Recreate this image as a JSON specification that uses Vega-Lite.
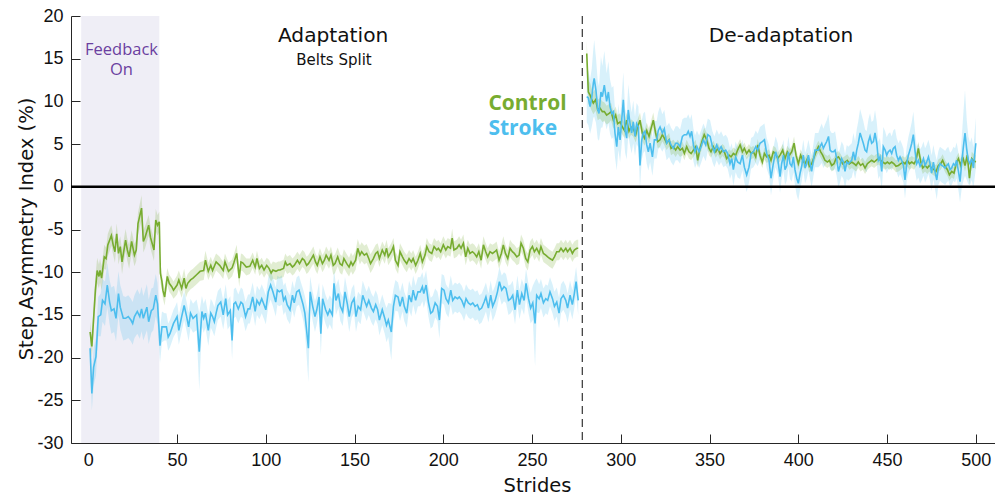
{
"$schema": "https://vega.github.io/schema/vega-lite/v6.json",
"width": 924, "height": 427,
"autosize": {"type": "none"},
"padding": {"left": 71, "top": 16, "right": 0, "bottom": 51},
"background": "white",
"config": {
 "view": {"stroke": null},
 "axis": {"grid": false, "domainColor": "#262626", "domainWidth": 1, "tickColor": "#262626", "tickWidth": 1, "tickSize": -9, "labelFont": "Liberation Sans", "labelFontSize": 18, "labelColor": "#111111", "titleFont": "DejaVu Sans", "titleFontSize": 19.5, "titleFontWeight": "normal", "titleColor": "#111111"}
},
"datasets": {
"cA": [
{"s":1,"m":-17.0,"e":1.2},{"s":2,"m":-18.7,"e":1.3},{"s":4,"m":-12.1,"e":1.6},{"s":5,"m":-9.8,"e":1.5},{"s":6,"m":-10.5,"e":1.4},{"s":6.6,"m":-9.8,"e":1.4},{"s":7.5,"m":-10.7,"e":1.4},{"s":9,"m":-8.2,"e":1.4},{"s":10,"m":-8.4,"e":1.3},{"s":11,"m":-6.8,"e":1.3},{"s":12,"m":-6.25,"e":1.3},{"s":13,"m":-5.7,"e":1.2},{"s":14,"m":-6.8,"e":1.2},{"s":15,"m":-7.6,"e":1.3},{"s":16,"m":-5.5,"e":1.2},{"s":17,"m":-7.8,"e":1.3},{"s":18,"m":-7.0,"e":1.2},{"s":19,"m":-8.8,"e":1.4},{"s":21,"m":-6.25,"e":1.3},{"s":22,"m":-7.4,"e":1.3},{"s":23,"m":-8.2,"e":1.4},{"s":24.4,"m":-6.4,"e":1.3},{"s":26,"m":-8.0,"e":1.3},{"s":27,"m":-7.4,"e":1.3},{"s":28,"m":-4.3,"e":1.3},{"s":30,"m":-2.5,"e":1.5},{"s":31,"m":-6.4,"e":1.3},{"s":32,"m":-5.9,"e":1.3},{"s":34,"m":-4.5,"e":1.2},{"s":35,"m":-5.9,"e":1.3},{"s":37,"m":-7.4,"e":1.3},{"s":38,"m":-3.9,"e":1.3},{"s":39,"m":-4.5,"e":1.2},{"s":40,"m":-4.1,"e":1.2},
{"s":40.6,"m":-10.1,"e":1.1},{"s":41.5,"m":-11.1,"e":1.0},{"s":42,"m":-12.1,"e":1.0},{"s":43,"m":-12.9,"e":1.0},{"s":44.5,"m":-10.5,"e":1.0},{"s":45.6,"m":-11.3,"e":1.0},{"s":47,"m":-11.7,"e":1.0},{"s":48,"m":-12.1,"e":1.0},{"s":50,"m":-11.5,"e":1.1},{"s":51,"m":-10.9,"e":1.1},{"s":52.6,"m":-11.9,"e":1.1},{"s":54,"m":-10.7,"e":1.1},{"s":55,"m":-11.9,"e":1.1},{"s":56,"m":-11.3,"e":1.1},{"s":57.6,"m":-10.9,"e":1.1},{"s":59,"m":-10.7,"e":1.1},{"s":61,"m":-10.3,"e":1.1},{"s":63,"m":-9.9,"e":1.1},{"s":65,"m":-9.8,"e":1.1},{"s":66,"m":-8.6,"e":1.1},{"s":67.6,"m":-9.9,"e":1.0},{"s":69,"m":-9.2,"e":1.0},{"s":70,"m":-9.8,"e":1.0},{"s":72,"m":-8.8,"e":1.0},{"s":74,"m":-9.2,"e":1.0},{"s":76,"m":-9.8,"e":1.0},{"s":77,"m":-8.8,"e":1.0},{"s":79,"m":-9.9,"e":1.0},{"s":81,"m":-9.5,"e":1.0},{"s":82,"m":-8.9,"e":1.0},{"s":83.6,"m":-7.8,"e":1.0},{"s":85,"m":-10.7,"e":1.0},{"s":86,"m":-8.8,"e":1.0},{"s":87,"m":-8.9,"e":1.0},{"s":89,"m":-9.4,"e":1.0},{"s":91,"m":-9.3,"e":0.9},
{"s":92.6,"m":-8.6,"e":0.9},{"s":94,"m":-9.4,"e":0.9},{"s":95,"m":-8.4,"e":0.9},{"s":96.4,"m":-9.55,"e":0.9},{"s":97.7,"m":-9.2,"e":0.9},{"s":99,"m":-9.75,"e":0.9},{"s":100.5,"m":-9.2,"e":0.9},{"s":101.8,"m":-9.55,"e":1.0},{"s":103,"m":-10.1,"e":1.0},{"s":104,"m":-9.75,"e":1.0},{"s":105.7,"m":-9.9,"e":1.0},{"s":107,"m":-9.75,"e":1.0},{"s":108,"m":-9.75,"e":1.0},{"s":110,"m":-9.55,"e":1.0},{"s":111,"m":-8.8,"e":1.0},{"s":112,"m":-9.2,"e":1.0},{"s":113.6,"m":-9.0,"e":1.0},{"s":115,"m":-9.4,"e":1.0},{"s":116,"m":-9.2,"e":1.0},{"s":117.8,"m":-8.6,"e":1.0},{"s":119,"m":-9.0,"e":1.0},{"s":120.6,"m":-8.4,"e":1.0},{"s":121.7,"m":-8.6,"e":1.0},{"s":123,"m":-9.2,"e":1.0},{"s":124,"m":-9.0,"e":1.0},{"s":125.7,"m":-8.4,"e":1.0},{"s":126.8,"m":-8.0,"e":1.0},{"s":128,"m":-8.8,"e":1.0},{"s":129,"m":-9.2,"e":1.0},{"s":130.5,"m":-8.2,"e":1.0},{"s":131.9,"m":-9.0,"e":1.0},{"s":133,"m":-8.6,"e":1.0},{"s":134,"m":-8.0,"e":1.0},{"s":135.6,"m":-8.6,"e":1.0},{"s":136.7,"m":-8.0,"e":1.0},{"s":138,"m":-9.2,"e":1.1},{"s":139,"m":-9.0,"e":1.1},{"s":140.5,"m":-8.2,"e":1.1},{"s":141.8,"m":-9.0,"e":1.1},{"s":143,"m":-9.2,"e":1.1},{"s":144,"m":-8.4,"e":1.1},{"s":145.6,"m":-9.0,"e":1.1},{"s":146.9,"m":-9.4,"e":1.1},{"s":148,"m":-8.8,"e":1.1},{"s":149,"m":-9.2,"e":1.1},{"s":150.6,"m":-8.6,"e":1.1},{"s":151.8,"m":-7.2,"e":1.1},{"s":153,"m":-8.0,"e":1.1},{"s":154,"m":-7.6,"e":1.1},{"s":155.5,"m":-8.0,"e":1.1},{"s":156.8,"m":-7.8,"e":1.1},{"s":158,"m":-8.4,"e":1.1},{"s":159,"m":-9.0,"e":1.1},{"s":160.6,"m":-8.4,"e":1.1},{"s":161.9,"m":-7.8,"e":1.0},{"s":163,"m":-7.6,"e":1.0},{"s":164,"m":-8.4,"e":1.0},{"s":165.6,"m":-7.4,"e":1.0},{"s":167,"m":-8.0,"e":1.0},{"s":168,"m":-7.2,"e":1.0},{"s":169,"m":-8.2,"e":1.0},{"s":170.7,"m":-7.6,"e":1.0},{"s":171.9,"m":-7.0,"e":1.0},{"s":173,"m":-8.6,"e":1.0},{"s":174.5,"m":-9.2,"e":1.0},{"s":175.6,"m":-7.6,"e":1.0},{"s":177,"m":-8.2,"e":1.0},{"s":178,"m":-8.6,"e":1.0},{"s":179.4,"m":-9.0,"e":1.0},{"s":180.7,"m":-8.4,"e":1.0},{"s":182,"m":-8.8,"e":1.0},{"s":183,"m":-8.4,"e":1.0},{"s":184.4,"m":-9.2,"e":1.0},{"s":185.7,"m":-8.6,"e":1.0},
{"s":187,"m":-7.8,"e":1.0},{"s":188.2,"m":-8.8,"e":1.0},{"s":189.7,"m":-8.0,"e":1.0},{"s":190.7,"m":-7.0,"e":1.0},{"s":192,"m":-7.6,"e":1.0},{"s":193.5,"m":-7.8,"e":1.0},{"s":194.8,"m":-7.0,"e":1.0},{"s":196.3,"m":-7.4,"e":1.0},{"s":197.2,"m":-7.2,"e":1.0},{"s":198.5,"m":-7.6,"e":1.0},{"s":200,"m":-6.8,"e":1.0},{"s":201.4,"m":-7.4,"e":1.0},{"s":202.5,"m":-7.0,"e":1.0},{"s":204,"m":-7.2,"e":1.0},{"s":205,"m":-6.0,"e":1.1},{"s":206,"m":-7.4,"e":1.0},{"s":207.6,"m":-7.2,"e":1.0},{"s":208.9,"m":-6.8,"e":1.0},{"s":210,"m":-7.2,"e":1.0},{"s":211.3,"m":-6.6,"e":1.0},{"s":212.6,"m":-8.2,"e":1.0},{"s":213.8,"m":-7.2,"e":1.0},{"s":215,"m":-7.8,"e":1.0},{"s":216.4,"m":-7.6,"e":1.0},{"s":217.5,"m":-7.8,"e":1.0},{"s":218.8,"m":-8.2,"e":1.0},{"s":220,"m":-7.6,"e":1.0},{"s":221.3,"m":-8.6,"e":1.0},{"s":222.6,"m":-6.8,"e":1.0},{"s":223.9,"m":-7.6,"e":1.0},{"s":225,"m":-8.2,"e":1.0},{"s":226.3,"m":-7.6,"e":1.0},{"s":227.7,"m":-7.8,"e":1.0},{"s":229,"m":-7.6,"e":1.0},{"s":230,"m":-7.4,"e":1.0},{"s":231.4,"m":-8.6,"e":1.0},{"s":232.7,"m":-7.8,"e":1.0},{"s":233.8,"m":-6.8,"e":1.0},{"s":235,"m":-7.8,"e":1.0},{"s":236.3,"m":-8.4,"e":1.0},{"s":237.6,"m":-7.2,"e":1.0},{"s":238.9,"m":-7.6,"e":1.0},{"s":240,"m":-7.8,"e":1.0},{"s":241.4,"m":-8.2,"e":1.0},{"s":242.7,"m":-8.0,"e":1.0},{"s":243.8,"m":-6.6,"e":1.0},{"s":245.1,"m":-7.2,"e":1.0},{"s":246.4,"m":-8.4,"e":1.0},{"s":247.6,"m":-8.8,"e":1.0},{"s":248.9,"m":-7.4,"e":1.0},{"s":250.2,"m":-7.0,"e":1.0},{"s":251.3,"m":-7.6,"e":1.0},{"s":252.6,"m":-7.2,"e":1.0},{"s":254,"m":-7.8,"e":1.0},{"s":255,"m":-7.0,"e":1.0},{"s":256.4,"m":-7.8,"e":1.0},{"s":257.7,"m":-8.0,"e":1.0},{"s":258.8,"m":-8.2,"e":1.0},{"s":260,"m":-8.4,"e":1.0},{"s":261.5,"m":-8.6,"e":1.0},{"s":262.6,"m":-8.2,"e":1.0},{"s":263.9,"m":-7.6,"e":1.0},{"s":265.2,"m":-7.6,"e":1.0},{"s":266.3,"m":-7.2,"e":1.0},{"s":267.6,"m":-7.6,"e":1.0},{"s":269,"m":-7.2,"e":1.0},{"s":270,"m":-7.6,"e":1.0},{"s":271.4,"m":-7.2,"e":1.0},{"s":272.7,"m":-7.8,"e":1.0},{"s":273.8,"m":-7.4,"e":1.0},{"s":275.2,"m":-7.2,"e":1.0},{"s":276,"m":-7.2,"e":1.0}
],
"sA": [
{"s":1,"m":-18.9,"e":2.0},{"s":2,"m":-24.2,"e":2.0},{"s":3,"m":-21.1,"e":2.2},{"s":4.3,"m":-19.9,"e":2.2},{"s":5.6,"m":-15.2,"e":2.3},{"s":7,"m":-15.0,"e":2.5},{"s":8,"m":-13.3,"e":2.5},{"s":9.4,"m":-13.7,"e":2.6},{"s":10.7,"m":-11.5,"e":2.6},{"s":12,"m":-13.5,"e":2.6},{"s":13,"m":-14.5,"e":2.7},{"s":14.5,"m":-14.3,"e":2.7},{"s":15.6,"m":-15.4,"e":2.7},{"s":17,"m":-12.5,"e":2.6},{"s":18,"m":-14.1,"e":2.6},{"s":19.7,"m":-15.4,"e":2.6},{"s":21,"m":-15.4,"e":2.5},{"s":22.5,"m":-15.2,"e":2.5},{"s":24,"m":-15.6,"e":2.5},{"s":25,"m":-16.0,"e":2.5},{"s":26,"m":-15.2,"e":2.5},{"s":27.6,"m":-14.6,"e":2.6},{"s":29,"m":-15.2,"e":2.6},{"s":30,"m":-14.3,"e":2.6},{"s":31,"m":-15.4,"e":2.6},{"s":33,"m":-14.1,"e":2.7},{"s":34,"m":-15.8,"e":2.6},{"s":35.5,"m":-14.5,"e":2.6},{"s":36.6,"m":-14.3,"e":2.5},{"s":38,"m":-12.7,"e":2.5},{"s":39,"m":-13.7,"e":2.4},{"s":40.4,"m":-18.6,"e":2.0},{"s":41.5,"m":-16.4,"e":1.8},{"s":43,"m":-16.4,"e":1.6},{"s":44,"m":-16.4,"e":1.6},{"s":45,"m":-17.6,"e":1.6},{"s":46,"m":-17.2,"e":1.6},{"s":48,"m":-16.0,"e":1.6},{"s":49,"m":-15.6,"e":1.6},{"s":50,"m":-15.2,"e":1.7},{"s":51,"m":-16.8,"e":1.7},{"s":52.6,"m":-15.2,"e":1.7},{"s":54,"m":-13.9,"e":1.7},{"s":55.4,"m":-15.2,"e":1.7},{"s":56.5,"m":-16.4,"e":1.7},{"s":57.6,"m":-14.8,"e":1.7},{"s":59,"m":-15.4,"e":1.7},{"s":61,"m":-15.0,"e":1.8},{"s":62.5,"m":-19.3,"e":4.5},{"s":64,"m":-14.6,"e":1.8},{"s":65,"m":-15.4,"e":1.7},{"s":66,"m":-14.8,"e":1.7},{"s":67.6,"m":-16.8,"e":1.8},{"s":69,"m":-14.8,"e":1.7},{"s":70,"m":-15.2,"e":1.7},{"s":71,"m":-15.8,"e":1.7},{"s":72,"m":-14.8,"e":1.7},{"s":73,"m":-13.9,"e":1.7},{"s":74.6,"m":-13.5,"e":1.7},{"s":76,"m":-15.0,"e":1.7},{"s":77.4,"m":-13.1,"e":1.7},{"s":78.5,"m":-15.0,"e":1.7},{"s":80,"m":-14.5,"e":1.7},{"s":81,"m":-18.0,"e":2.2},{"s":82,"m":-13.7,"e":1.7},{"s":83,"m":-13.5,"e":1.7},{"s":84.5,"m":-14.3,"e":1.7},{"s":86,"m":-13.5,"e":1.7},{"s":87,"m":-13.7,"e":1.7},{"s":88.6,"m":-15.2,"e":1.7},{"s":90,"m":-14.3,"e":1.7},{"s":91,"m":-14.3,"e":1.7},
{"s":92.6,"m":-12.9,"e":1.7},{"s":94,"m":-14.6,"e":1.7},{"s":95,"m":-13.3,"e":1.7},{"s":96.4,"m":-13.8,"e":1.7},{"s":97.7,"m":-13.1,"e":1.7},{"s":99,"m":-13.8,"e":1.7},{"s":100,"m":-14.4,"e":1.7},{"s":101.4,"m":-12.3,"e":1.7},{"s":102.7,"m":-11.5,"e":1.7},{"s":104,"m":-12.3,"e":1.7},{"s":105.6,"m":-13.5,"e":1.7},{"s":106.5,"m":-12.1,"e":1.7},{"s":107.6,"m":-12.3,"e":1.7},{"s":109,"m":-12.1,"e":1.7},{"s":110,"m":-13.3,"e":1.7},{"s":111,"m":-12.9,"e":1.7},{"s":112,"m":-13.8,"e":1.7},{"s":113.6,"m":-14.4,"e":1.7},{"s":115,"m":-12.7,"e":1.7},{"s":116,"m":-13.6,"e":1.7},{"s":117.4,"m":-12.3,"e":1.7},{"s":118.7,"m":-12.1,"e":1.7},{"s":119.8,"m":-12.9,"e":1.7},{"s":121,"m":-13.8,"e":1.8},{"s":122,"m":-14.8,"e":2.0},{"s":124,"m":-18.9,"e":4.0},{"s":125,"m":-12.3,"e":1.8},{"s":126.4,"m":-14.0,"e":1.7},{"s":127.7,"m":-15.2,"e":1.8},{"s":128.7,"m":-14.4,"e":1.7},{"s":130,"m":-12.9,"e":1.7},{"s":131,"m":-17.2,"e":2.5},{"s":132,"m":-13.1,"e":1.7},{"s":133.7,"m":-14.4,"e":1.7},{"s":134.9,"m":-15.0,"e":1.7},{"s":136,"m":-14.4,"e":1.7},{"s":137.5,"m":-15.0,"e":1.8},{"s":138.4,"m":-11.3,"e":1.7},{"s":139.5,"m":-13.3,"e":1.7},{"s":140.9,"m":-12.5,"e":1.7},{"s":142,"m":-14.0,"e":1.7},{"s":143.3,"m":-14.6,"e":1.7},{"s":144.6,"m":-12.3,"e":1.7},{"s":146,"m":-13.8,"e":1.7},{"s":147,"m":-15.2,"e":1.8},{"s":148.4,"m":-13.6,"e":1.7},{"s":149.7,"m":-13.1,"e":1.7},{"s":150.8,"m":-15.2,"e":1.8},{"s":152,"m":-14.0,"e":1.7},{"s":153.4,"m":-14.4,"e":1.7},{"s":154.6,"m":-12.7,"e":1.7},{"s":155.9,"m":-13.5,"e":1.7},{"s":156.8,"m":-14.0,"e":1.7},{"s":158,"m":-13.3,"e":1.7},{"s":159.5,"m":-14.2,"e":1.7},{"s":160.6,"m":-14.6,"e":1.7},{"s":161.9,"m":-13.8,"e":1.7},{"s":163,"m":-14.4,"e":1.7},{"s":164,"m":-15.6,"e":1.8},{"s":165.6,"m":-14.4,"e":1.8},{"s":167,"m":-15.4,"e":1.8},{"s":168,"m":-16.2,"e":2.0},{"s":169,"m":-15.6,"e":2.0},{"s":170.7,"m":-17.0,"e":3.3},{"s":171.9,"m":-14.0,"e":2.0},{"s":173,"m":-12.7,"e":1.8},{"s":174.5,"m":-12.9,"e":1.7},{"s":175.6,"m":-14.0,"e":1.7},{"s":177,"m":-12.9,"e":1.7},{"s":178,"m":-14.0,"e":1.7},{"s":179.4,"m":-14.8,"e":1.7},{"s":180.7,"m":-12.7,"e":1.7},{"s":182,"m":-13.5,"e":1.7},{"s":183,"m":-12.1,"e":1.7},{"s":184.4,"m":-13.3,"e":1.7},{"s":185.7,"m":-12.3,"e":1.7},
{"s":187,"m":-12.3,"e":1.7},{"s":188.2,"m":-11.7,"e":1.7},{"s":189,"m":-12.5,"e":1.7},{"s":190.3,"m":-11.5,"e":1.7},{"s":191.6,"m":-13.5,"e":1.7},{"s":192.9,"m":-14.8,"e":1.8},{"s":194,"m":-14.6,"e":1.8},{"s":195.4,"m":-13.6,"e":1.7},{"s":196.7,"m":-14.0,"e":1.7},{"s":197.8,"m":-15.6,"e":2.2},{"s":199.1,"m":-11.9,"e":1.7},{"s":200.4,"m":-12.1,"e":1.7},{"s":201.5,"m":-13.1,"e":1.7},{"s":202.9,"m":-13.6,"e":1.7},{"s":204.2,"m":-12.1,"e":1.7},{"s":205.3,"m":-13.3,"e":1.7},{"s":206.6,"m":-12.9,"e":1.7},{"s":208,"m":-13.1,"e":1.7},{"s":209,"m":-12.9,"e":1.7},{"s":210.4,"m":-13.3,"e":1.7},{"s":211.7,"m":-14.0,"e":1.7},{"s":212.8,"m":-13.1,"e":1.7},{"s":214.1,"m":-13.6,"e":1.7},{"s":215.4,"m":-13.8,"e":1.7},{"s":216.6,"m":-13.6,"e":1.7},{"s":217.9,"m":-14.0,"e":1.7},{"s":219.2,"m":-13.8,"e":1.7},{"s":220.3,"m":-14.4,"e":1.7},{"s":221.6,"m":-14.2,"e":1.7},{"s":223,"m":-13.5,"e":1.7},{"s":224,"m":-12.9,"e":1.7},{"s":225.4,"m":-14.2,"e":1.7},{"s":226.7,"m":-12.7,"e":1.7},{"s":227.8,"m":-14.0,"e":1.7},{"s":229.2,"m":-13.3,"e":1.7},{"s":230.5,"m":-12.3,"e":1.7},{"s":231.6,"m":-11.1,"e":1.7},{"s":232.9,"m":-12.1,"e":1.7},{"s":234.2,"m":-11.7,"e":1.7},{"s":235.3,"m":-11.9,"e":1.7},{"s":236.7,"m":-13.3,"e":1.7},{"s":238,"m":-13.1,"e":1.7},{"s":239.1,"m":-12.7,"e":1.7},{"s":240.4,"m":-14.4,"e":1.7},{"s":241.7,"m":-12.1,"e":1.7},{"s":242.9,"m":-13.8,"e":1.7},{"s":244.2,"m":-12.5,"e":1.7},{"s":245.5,"m":-13.3,"e":1.7},{"s":246.6,"m":-11.3,"e":1.7},{"s":248,"m":-13.1,"e":1.7},{"s":249.2,"m":-14.2,"e":1.8},{"s":250.4,"m":-13.6,"e":2.0},{"s":251.7,"m":-16.0,"e":5.0},{"s":252.6,"m":-12.7,"e":2.0},{"s":254,"m":-13.1,"e":1.7},{"s":255,"m":-12.5,"e":1.7},{"s":256.4,"m":-13.6,"e":1.7},{"s":257.7,"m":-13.1,"e":1.7},{"s":258.8,"m":-13.3,"e":1.7},{"s":260.1,"m":-12.3,"e":1.7},{"s":261.5,"m":-13.1,"e":1.7},{"s":262.6,"m":-14.0,"e":1.7},{"s":263.9,"m":-13.5,"e":1.7},{"s":265.2,"m":-14.8,"e":1.8},{"s":266.3,"m":-13.1,"e":1.7},{"s":267.6,"m":-12.7,"e":1.7},{"s":269,"m":-13.3,"e":1.7},{"s":270,"m":-14.2,"e":1.7},{"s":271.4,"m":-12.7,"e":1.7},{"s":272.7,"m":-13.8,"e":1.7},{"s":273.8,"m":-12.5,"e":1.7},{"s":274.8,"m":-11.1,"e":1.7},{"s":276,"m":-13.3,"e":1.7}
],
"cD": [
{"s":280.8,"m":15.6,"e":1.5},{"s":281.7,"m":11.1,"e":1.4},{"s":282.7,"m":10.75,"e":1.4},{"s":283.6,"m":10.2,"e":1.3},{"s":284.5,"m":9.8,"e":1.3},{"s":285.8,"m":10.2,"e":1.3},{"s":287,"m":9.0,"e":1.2},{"s":288.3,"m":9.2,"e":1.2},{"s":289.6,"m":8.8,"e":1.2},{"s":290.7,"m":8.8,"e":1.1},{"s":292,"m":8.4,"e":1.1},{"s":293.4,"m":8.6,"e":1.1},{"s":294.5,"m":8.8,"e":1.0},{"s":295.8,"m":7.8,"e":1.0},{"s":297.1,"m":8.4,"e":1.0},{"s":298.2,"m":7.4,"e":1.0},{"s":299.6,"m":7.6,"e":1.0},{"s":300.9,"m":7.0,"e":0.9},{"s":302,"m":6.6,"e":0.9},{"s":303.3,"m":7.8,"e":0.9},{"s":304.6,"m":6.5,"e":0.9},{"s":305.7,"m":7.0,"e":0.9},{"s":307,"m":6.8,"e":0.9},{"s":308.4,"m":6.1,"e":0.9},{"s":309.5,"m":7.0,"e":0.9},{"s":310.8,"m":7.8,"e":0.9},{"s":312.1,"m":6.3,"e":0.9},{"s":313.3,"m":5.7,"e":0.9},{"s":314.6,"m":6.6,"e":0.9},{"s":315.9,"m":5.9,"e":0.9},{"s":317,"m":6.8,"e":0.9},{"s":318.3,"m":7.8,"e":0.9},{"s":319.6,"m":6.3,"e":0.8},{"s":320.8,"m":5.3,"e":0.8},{"s":322.1,"m":5.5,"e":0.8},{"s":323.4,"m":6.1,"e":0.8},{"s":324.5,"m":5.7,"e":0.8},{"s":325.8,"m":5.1,"e":0.8},{"s":327.2,"m":5.5,"e":0.8},{"s":328.3,"m":4.5,"e":0.8},{"s":329.6,"m":4.7,"e":0.8},{"s":330.9,"m":4.3,"e":0.8},{"s":332,"m":4.7,"e":0.8},{"s":333.4,"m":4.3,"e":0.8},{"s":334.7,"m":4.5,"e":0.8},{"s":335.8,"m":3.9,"e":0.8},{"s":337.1,"m":4.7,"e":0.8},{"s":338.4,"m":4.1,"e":0.8},{"s":339.6,"m":3.9,"e":0.8},{"s":340.9,"m":4.3,"e":0.8},{"s":342.2,"m":4.7,"e":0.8},{"s":343.3,"m":3.1,"e":0.8},{"s":344.6,"m":4.5,"e":0.8},{"s":346,"m":5.5,"e":0.8},{"s":347,"m":6.1,"e":0.8},{"s":348.4,"m":5.5,"e":0.8},{"s":349.7,"m":4.5,"e":0.8},{"s":350.8,"m":4.1,"e":0.7},{"s":352.1,"m":4.7,"e":0.7},{"s":353.5,"m":4.1,"e":0.7},{"s":354.6,"m":4.5,"e":0.7},{"s":355.9,"m":3.9,"e":0.7},{"s":357.2,"m":4.3,"e":0.7},{"s":358.3,"m":4.1,"e":0.7},{"s":359.6,"m":3.3,"e":0.7},{"s":361,"m":3.7,"e":0.7},{"s":362.1,"m":3.5,"e":0.7},{"s":363.4,"m":3.9,"e":0.7},{"s":364.7,"m":3.7,"e":0.7},{"s":365.8,"m":4.3,"e":0.7},{"s":367.2,"m":4.9,"e":0.7},{"s":368.5,"m":4.1,"e":0.7},{"s":369.6,"m":4.5,"e":0.7},{"s":370.9,"m":3.9,"e":0.7},{"s":372.2,"m":4.3,"e":0.7},{"s":373.4,"m":3.9,"e":0.7},{"s":374.7,"m":4.1,"e":0.7},{"s":376,"m":3.5,"e":0.7},{"s":377.1,"m":4.9,"e":0.7},{"s":378.4,"m":3.7,"e":0.7},{"s":379.7,"m":2.9,"e":0.7},{"s":380.9,"m":3.9,"e":0.7},{"s":382.2,"m":3.5,"e":0.7},{"s":383.5,"m":3.7,"e":0.7},{"s":384.6,"m":3.1,"e":0.7},{"s":385.9,"m":4.1,"e":0.7},{"s":387.2,"m":3.9,"e":0.7},{"s":388.4,"m":3.3,"e":0.7},
{"s":389.7,"m":3.7,"e":0.7},{"s":391.2,"m":4.3,"e":0.7},{"s":392.5,"m":3.3,"e":0.7},{"s":393.8,"m":4.1,"e":0.7},{"s":395,"m":3.7,"e":0.7},{"s":396.3,"m":4.1,"e":0.7},{"s":397.6,"m":5.1,"e":0.8},{"s":398.7,"m":3.7,"e":0.7},{"s":400,"m":2.7,"e":0.7},{"s":401.3,"m":3.7,"e":0.7},{"s":402.5,"m":3.1,"e":0.7},{"s":403.8,"m":2.7,"e":0.7},{"s":405.1,"m":3.3,"e":0.7},{"s":406.2,"m":2.4,"e":0.7},{"s":407.5,"m":2.7,"e":0.7},{"s":408.9,"m":3.5,"e":0.7},{"s":410,"m":4.1,"e":0.7},{"s":411.3,"m":4.7,"e":0.7},{"s":412.6,"m":4.1,"e":0.7},{"s":413.7,"m":3.7,"e":0.7},{"s":415,"m":3.1,"e":0.7},{"s":416.4,"m":2.9,"e":0.7},{"s":417.5,"m":3.1,"e":0.7},{"s":418.8,"m":2.5,"e":0.7},{"s":420.1,"m":2.7,"e":0.7},{"s":421.2,"m":3.3,"e":0.7},{"s":422.6,"m":3.5,"e":0.7},{"s":423.9,"m":3.1,"e":0.7},{"s":425,"m":2.7,"e":0.7},{"s":426.3,"m":2.9,"e":0.7},{"s":427.6,"m":3.1,"e":0.7},{"s":428.8,"m":2.7,"e":0.7},{"s":430.1,"m":2.9,"e":0.7},{"s":431.4,"m":2.7,"e":0.7},{"s":432.5,"m":2.5,"e":0.7},{"s":433.8,"m":2.9,"e":0.7},{"s":435.1,"m":2.5,"e":0.7},{"s":436.3,"m":2.7,"e":0.7},{"s":437.6,"m":2.2,"e":0.7},{"s":438.9,"m":2.7,"e":0.7},{"s":440,"m":2.9,"e":0.7},{"s":441.3,"m":3.1,"e":0.7},{"s":442.7,"m":2.9,"e":0.7},{"s":443.8,"m":3.1,"e":0.7},{"s":445.1,"m":3.3,"e":0.7},{"s":446.4,"m":3.1,"e":0.7},{"s":447.5,"m":2.9,"e":0.7},{"s":448.9,"m":2.7,"e":0.7},{"s":450.2,"m":2.9,"e":0.7},{"s":451.3,"m":2.7,"e":0.7},{"s":452.6,"m":2.9,"e":0.7},{"s":453.9,"m":2.7,"e":0.7},{"s":455,"m":2.4,"e":0.7},{"s":456.4,"m":2.5,"e":0.7},{"s":457.7,"m":2.7,"e":0.7},{"s":458.8,"m":2.9,"e":0.7},{"s":460.1,"m":2.7,"e":0.7},{"s":461.4,"m":3.1,"e":0.7},{"s":462.6,"m":2.7,"e":0.7},{"s":463.9,"m":2.9,"e":0.7},{"s":465.2,"m":2.7,"e":0.7},{"s":466.3,"m":3.1,"e":0.7},{"s":467.6,"m":4.5,"e":0.8},{"s":469,"m":2.9,"e":0.7},{"s":470.1,"m":2.2,"e":0.7},{"s":471.4,"m":2.5,"e":0.7},{"s":472.7,"m":2.2,"e":0.7},{"s":473.8,"m":2.5,"e":0.7},{"s":475.1,"m":2.2,"e":0.7},{"s":476.5,"m":2.0,"e":0.7},{"s":477.6,"m":1.8,"e":0.7},{"s":478.9,"m":2.5,"e":0.7},{"s":480.2,"m":2.7,"e":0.7},{"s":481.3,"m":3.1,"e":0.7},{"s":482.7,"m":2.4,"e":0.7},{"s":484,"m":2.0,"e":0.7},{"s":485.1,"m":1.4,"e":0.7},{"s":486.4,"m":1.8,"e":0.7},{"s":487.7,"m":1.6,"e":0.7},{"s":488.9,"m":2.7,"e":0.7},{"s":490.2,"m":3.3,"e":0.7},{"s":491.5,"m":2.5,"e":0.7},{"s":492.6,"m":3.5,"e":0.7},{"s":493.9,"m":2.5,"e":0.7},{"s":495.2,"m":3.7,"e":0.8},{"s":496.4,"m":1.0,"e":0.8},{"s":497.7,"m":3.3,"e":0.8},{"s":498.6,"m":3.1,"e":0.8},{"s":500,"m":2.9,"e":0.8}
],
"sD": [
{"s":280.8,"m":10.55,"e":3.0},{"s":281.7,"m":10.4,"e":3.2},{"s":282.7,"m":9.4,"e":3.2},{"s":283.6,"m":10.4,"e":3.4},{"s":284.5,"m":12.1,"e":4.0},{"s":285,"m":12.7,"e":4.5},{"s":286,"m":11.3,"e":3.8},{"s":287,"m":9.0,"e":3.4},{"s":287.7,"m":8.6,"e":3.2},{"s":288.8,"m":11.1,"e":4.2},{"s":289.6,"m":10.55,"e":3.6},{"s":290.7,"m":11.9,"e":4.0},{"s":292,"m":10.0,"e":3.3},{"s":293,"m":11.1,"e":3.6},{"s":293.9,"m":9.4,"e":3.2},{"s":294.9,"m":8.6,"e":3.0},{"s":295.8,"m":8.8,"e":3.0},{"s":296.7,"m":6.3,"e":2.8},{"s":297.7,"m":4.7,"e":2.8},{"s":298.6,"m":7.0,"e":2.7},{"s":299.6,"m":5.5,"e":2.6},{"s":300.5,"m":7.8,"e":2.8},{"s":301.4,"m":10.2,"e":3.2},{"s":302.4,"m":6.6,"e":2.6},{"s":303.3,"m":5.7,"e":2.5},{"s":304.2,"m":9.0,"e":3.0},{"s":305.2,"m":7.4,"e":2.6},{"s":306.1,"m":6.3,"e":2.4},{"s":307,"m":7.6,"e":2.5},{"s":308,"m":5.9,"e":2.3},{"s":308.9,"m":7.4,"e":2.4},{"s":309.9,"m":7.0,"e":2.4},{"s":310.8,"m":2.5,"e":2.6},{"s":311.8,"m":5.5,"e":2.3},{"s":312.7,"m":6.3,"e":2.3},{"s":313.6,"m":6.5,"e":2.3},{"s":314.6,"m":4.9,"e":2.2},{"s":315.5,"m":4.1,"e":2.2},{"s":316.5,"m":5.1,"e":2.2},{"s":317.8,"m":3.5,"e":2.2},{"s":318.9,"m":5.5,"e":2.2},{"s":320.2,"m":5.5,"e":2.2},{"s":321.1,"m":6.6,"e":2.2},{"s":322.1,"m":7.0,"e":2.4},{"s":323.4,"m":6.3,"e":2.2},{"s":324.5,"m":6.8,"e":2.2},{"s":325.8,"m":5.1,"e":2.0},{"s":327.2,"m":5.5,"e":2.0},{"s":328.3,"m":4.9,"e":2.0},{"s":329.6,"m":4.5,"e":2.0},{"s":330.9,"m":5.1,"e":2.0},{"s":332,"m":5.1,"e":2.0},{"s":333.4,"m":4.7,"e":2.0},{"s":334.7,"m":5.9,"e":2.0},{"s":335.8,"m":6.1,"e":2.0},{"s":337.1,"m":6.1,"e":2.0},{"s":338,"m":6.5,"e":2.0},{"s":339,"m":5.9,"e":2.0},{"s":339.9,"m":6.5,"e":2.0},{"s":340.9,"m":4.9,"e":1.9},{"s":341.8,"m":4.1,"e":1.9},{"s":342.9,"m":4.7,"e":1.9},{"s":344.1,"m":4.1,"e":1.9},{"s":345.2,"m":4.7,"e":1.9},{"s":346.5,"m":5.5,"e":1.9},{"s":347.8,"m":4.9,"e":1.9},{"s":349,"m":6.1,"e":1.9},{"s":350.3,"m":5.9,"e":1.9},{"s":351.6,"m":4.7,"e":1.8},{"s":352.7,"m":4.1,"e":1.8},{"s":354,"m":4.9,"e":1.8},{"s":355.3,"m":4.3,"e":1.8},{"s":356.5,"m":4.7,"e":1.8},{"s":357.8,"m":4.1,"e":1.8},{"s":359.1,"m":4.3,"e":1.8},{"s":360.2,"m":3.9,"e":1.8},{"s":361.5,"m":2.7,"e":1.8},{"s":362.5,"m":3.3,"e":1.8},{"s":363.4,"m":2.0,"e":1.9},{"s":364.7,"m":3.5,"e":1.8},{"s":365.8,"m":2.9,"e":1.8},{"s":367.2,"m":2.7,"e":1.8},{"s":368.5,"m":3.7,"e":1.8},{"s":369.6,"m":2.3,"e":1.8},{"s":370.9,"m":1.4,"e":2.0},{"s":372.2,"m":2.3,"e":1.8},{"s":373.4,"m":3.9,"e":1.8},{"s":374.7,"m":4.1,"e":1.8},{"s":376,"m":4.7,"e":1.9},{"s":377.1,"m":4.3,"e":1.9},{"s":378.4,"m":5.1,"e":1.9},{"s":379.7,"m":5.3,"e":1.9},{"s":380.9,"m":5.5,"e":1.9},{"s":382.2,"m":3.9,"e":1.8},{"s":383.5,"m":3.1,"e":1.8},{"s":384.6,"m":1.0,"e":2.0},{"s":385.9,"m":2.7,"e":1.8},{"s":387.2,"m":4.1,"e":1.8},{"s":388.4,"m":3.3,"e":1.8},
{"s":389.7,"m":1.2,"e":1.9},{"s":390.6,"m":2.7,"e":1.8},{"s":391.6,"m":3.7,"e":1.8},{"s":392.5,"m":2.0,"e":1.8},{"s":393.5,"m":2.5,"e":1.8},{"s":394.4,"m":4.1,"e":1.8},{"s":395.3,"m":2.7,"e":1.8},{"s":396.3,"m":2.4,"e":1.8},{"s":397.2,"m":3.5,"e":1.8},{"s":398.1,"m":2.0,"e":1.8},{"s":399.1,"m":1.0,"e":2.0},{"s":400,"m":0.4,"e":2.0},{"s":401,"m":1.6,"e":1.9},{"s":401.9,"m":2.4,"e":1.8},{"s":402.8,"m":3.7,"e":1.8},{"s":403.8,"m":2.2,"e":1.8},{"s":404.7,"m":2.7,"e":1.8},{"s":405.7,"m":3.7,"e":1.8},{"s":406.6,"m":2.7,"e":1.8},{"s":407.5,"m":1.8,"e":1.9},{"s":408.5,"m":3.1,"e":1.9},{"s":409.4,"m":4.3,"e":2.0},{"s":410.4,"m":4.3,"e":2.0},{"s":411.3,"m":4.3,"e":2.0},{"s":412.2,"m":4.7,"e":2.2},{"s":413.2,"m":5.1,"e":2.3},{"s":414.1,"m":4.5,"e":2.3},{"s":415,"m":4.9,"e":2.4},{"s":416,"m":5.3,"e":2.5},{"s":417,"m":5.9,"e":2.6},{"s":417.9,"m":4.3,"e":2.3},{"s":418.8,"m":4.1,"e":2.2},{"s":419.8,"m":4.1,"e":2.2},{"s":420.7,"m":4.3,"e":2.2},{"s":421.6,"m":3.3,"e":2.0},{"s":422.6,"m":1.8,"e":2.0},{"s":423.5,"m":2.5,"e":2.0},{"s":424.4,"m":3.3,"e":2.0},{"s":425.4,"m":2.9,"e":2.0},{"s":426.3,"m":1.8,"e":2.0},{"s":427.3,"m":2.9,"e":2.0},{"s":428.2,"m":2.7,"e":2.0},{"s":429.1,"m":2.9,"e":2.0},{"s":430.1,"m":3.1,"e":2.0},{"s":431,"m":4.1,"e":2.2},{"s":432,"m":3.1,"e":2.2},{"s":432.9,"m":4.3,"e":2.4},{"s":433.8,"m":5.1,"e":2.6},{"s":434.8,"m":6.3,"e":2.8},{"s":435.7,"m":5.7,"e":2.7},{"s":436.6,"m":5.1,"e":2.6},{"s":437.6,"m":4.3,"e":2.4},{"s":438.5,"m":4.1,"e":2.4},{"s":439.5,"m":5.3,"e":2.6},{"s":440.4,"m":5.9,"e":2.7},{"s":441.3,"m":5.1,"e":2.5},{"s":442.3,"m":5.3,"e":2.5},{"s":443.2,"m":6.3,"e":2.7},{"s":444.2,"m":5.1,"e":2.5},{"s":445.1,"m":3.1,"e":2.2},{"s":446,"m":3.5,"e":2.2},{"s":447,"m":1.8,"e":2.2},{"s":447.9,"m":4.7,"e":2.3},{"s":448.9,"m":4.3,"e":2.2},{"s":449.8,"m":3.7,"e":2.1},{"s":450.7,"m":4.1,"e":2.1},{"s":451.7,"m":4.3,"e":2.1},{"s":452.6,"m":3.9,"e":2.0},{"s":453.5,"m":4.5,"e":2.1},{"s":454.5,"m":4.7,"e":2.1},{"s":455.4,"m":3.7,"e":2.0},{"s":456.4,"m":3.1,"e":2.0},{"s":457.3,"m":3.5,"e":2.0},{"s":458.2,"m":3.1,"e":2.0},{"s":459.2,"m":2.5,"e":2.0},{"s":460.1,"m":0.8,"e":2.2},{"s":461.1,"m":2.7,"e":2.0},{"s":462,"m":3.7,"e":2.1},{"s":462.9,"m":4.3,"e":2.3},{"s":463.9,"m":5.1,"e":2.5},{"s":464.8,"m":6.1,"e":2.7},{"s":465.8,"m":4.1,"e":2.3},{"s":466.7,"m":2.7,"e":2.0},{"s":467.6,"m":3.1,"e":2.0},{"s":468.6,"m":2.4,"e":2.0},{"s":469.5,"m":2.7,"e":2.0},{"s":470.5,"m":3.3,"e":2.0},{"s":471.4,"m":2.5,"e":2.0},{"s":472.3,"m":2.9,"e":2.0},{"s":473.3,"m":3.5,"e":2.0},{"s":474.2,"m":2.7,"e":2.0},{"s":475.1,"m":1.6,"e":2.1},{"s":476.1,"m":2.9,"e":2.0},{"s":477,"m":1.8,"e":2.1},{"s":478,"m":0.8,"e":2.3},{"s":478.9,"m":2.2,"e":2.0},{"s":479.8,"m":2.7,"e":2.0},{"s":480.8,"m":2.5,"e":2.0},{"s":481.7,"m":2.4,"e":2.0},{"s":482.7,"m":2.2,"e":2.0},{"s":483.6,"m":2.5,"e":2.0},{"s":484.5,"m":2.7,"e":2.0},{"s":485.5,"m":2.0,"e":2.0},{"s":486.4,"m":2.2,"e":2.0},{"s":487.4,"m":2.7,"e":2.0},{"s":488.3,"m":2.5,"e":2.0},{"s":489.2,"m":3.1,"e":2.1},{"s":490.2,"m":1.8,"e":2.2},{"s":491.1,"m":0.6,"e":2.4},{"s":492.1,"m":2.9,"e":3.0},{"s":493,"m":4.7,"e":4.0},{"s":493.9,"m":6.3,"e":5.0},{"s":494.9,"m":4.3,"e":3.5},{"s":495.8,"m":3.1,"e":2.8},{"s":496.7,"m":2.7,"e":2.5},{"s":497.7,"m":3.3,"e":2.5},{"s":498.6,"m":2.2,"e":2.4},{"s":500,"m":5.1,"e":3.0}
]
},
"layer": [
{"data": {"values": [{}]}, "mark": {"type": "rect", "color": "#efeef6"},
 "encoding": {"x": {"datum": -4, "type": "quantitative", "scale": {"domain": [-9.75, 510.8], "nice": false, "zero": false}}, "x2": {"datum": 40},
  "y": {"datum": -30, "type": "quantitative", "scale": {"domain": [-30, 20], "nice": false, "zero": false}}, "y2": {"datum": 20}}},
{"data": {"name": "sA"}, "mark": {"type": "errorband", "color": "#4DBEEE", "band": {"opacity": 0.22}},
 "encoding": {"x": {"field": "s", "type": "quantitative", "title": "Strides", "scale": {"domain": [-9.75, 510.8], "nice": false, "zero": false},
   "axis": {"title": "Strides", "values": [0,50,100,150,200,250,300,350,400,450,500], "labelPadding": 17, "titleX": 466, "titleY": 48.5, "titleBaseline": "alphabetic", "titleAnchor": null}},
  "y": {"field": "m", "type": "quantitative", "title": "Step Asymmetry Index (%)", "scale": {"domain": [-30, 20], "nice": false, "zero": false},
   "axis": {"title": "Step Asymmetry Index (%)", "values": [-30,-25,-20,-15,-10,-5,0,5,10,15,20], "labelPadding": 17, "labelExpr": "replace(datum.label, '\u2212', '-')", "titleX": -39, "titleY": 212.5, "titleBaseline": "alphabetic", "titleAngle": 270}},
  "yError": {"field": "e"}}},
{"data": {"name": "sD"}, "mark": {"type": "errorband", "color": "#4DBEEE", "band": {"opacity": 0.22}},
 "encoding": {"x": {"field": "s", "type": "quantitative", "title": "Strides", "scale": {"domain": [-9.75, 510.8], "nice": false, "zero": false}}, "y": {"field": "m", "type": "quantitative", "title": "Step Asymmetry Index (%)", "scale": {"domain": [-30, 20], "nice": false, "zero": false}}, "yError": {"field": "e"}}},
{"data": {"name": "cA"}, "mark": {"type": "errorband", "color": "#77AC30", "band": {"opacity": 0.22}},
 "encoding": {"x": {"field": "s", "type": "quantitative", "title": "Strides", "scale": {"domain": [-9.75, 510.8], "nice": false, "zero": false}}, "y": {"field": "m", "type": "quantitative", "title": "Step Asymmetry Index (%)", "scale": {"domain": [-30, 20], "nice": false, "zero": false}}, "yError": {"field": "e"}}},
{"data": {"name": "cD"}, "mark": {"type": "errorband", "color": "#77AC30", "band": {"opacity": 0.22}},
 "encoding": {"x": {"field": "s", "type": "quantitative", "title": "Strides", "scale": {"domain": [-9.75, 510.8], "nice": false, "zero": false}}, "y": {"field": "m", "type": "quantitative", "title": "Step Asymmetry Index (%)", "scale": {"domain": [-30, 20], "nice": false, "zero": false}}, "yError": {"field": "e"}}},
{"data": {"values": [{}]}, "mark": {"type": "rule", "color": "#000000", "strokeWidth": 2.5},
 "encoding": {"y": {"datum": 0, "type": "quantitative", "scale": {"domain": [-30, 20], "nice": false, "zero": false}}}},
{"data": {"values": [{}]}, "mark": {"type": "rule", "color": "#333333", "strokeWidth": 1.2, "strokeDash": [8, 5]},
 "encoding": {"x": {"datum": 278.3, "type": "quantitative", "scale": {"domain": [-9.75, 510.8], "nice": false, "zero": false}}}},
{"data": {"name": "cA"}, "mark": {"type": "line", "color": "#77AC30", "strokeWidth": 1.6},
 "encoding": {"x": {"field": "s", "type": "quantitative", "title": "Strides", "scale": {"domain": [-9.75, 510.8], "nice": false, "zero": false}}, "y": {"field": "m", "type": "quantitative", "title": "Step Asymmetry Index (%)", "scale": {"domain": [-30, 20], "nice": false, "zero": false}}}},
{"data": {"name": "sA"}, "mark": {"type": "line", "color": "#4DBEEE", "strokeWidth": 1.6},
 "encoding": {"x": {"field": "s", "type": "quantitative", "title": "Strides", "scale": {"domain": [-9.75, 510.8], "nice": false, "zero": false}}, "y": {"field": "m", "type": "quantitative", "title": "Step Asymmetry Index (%)", "scale": {"domain": [-30, 20], "nice": false, "zero": false}}}},
{"data": {"name": "cD"}, "mark": {"type": "line", "color": "#77AC30", "strokeWidth": 1.6},
 "encoding": {"x": {"field": "s", "type": "quantitative", "title": "Strides", "scale": {"domain": [-9.75, 510.8], "nice": false, "zero": false}}, "y": {"field": "m", "type": "quantitative", "title": "Step Asymmetry Index (%)", "scale": {"domain": [-30, 20], "nice": false, "zero": false}}}},
{"data": {"name": "sD"}, "mark": {"type": "line", "color": "#4DBEEE", "strokeWidth": 1.6},
 "encoding": {"x": {"field": "s", "type": "quantitative", "title": "Strides", "scale": {"domain": [-9.75, 510.8], "nice": false, "zero": false}}, "y": {"field": "m", "type": "quantitative", "title": "Step Asymmetry Index (%)", "scale": {"domain": [-30, 20], "nice": false, "zero": false}}}},
{"data": {"values": [{"s": 18.7, "m": 15.4, "t": "Feedback"}, {"s": 18.7, "m": 13.1, "t": "On"}]},
 "mark": {"type": "text", "font": "Open Sans", "fontSize": 16.5, "color": "#6B3FA0", "align": "center", "baseline": "alphabetic"},
 "encoding": {"x": {"field": "s", "type": "quantitative", "title": "Strides", "scale": {"domain": [-9.75, 510.8], "nice": false, "zero": false}}, "y": {"field": "m", "type": "quantitative", "title": "Step Asymmetry Index (%)", "scale": {"domain": [-30, 20], "nice": false, "zero": false}}, "text": {"field": "t"}}},
{"data": {"values": [{"s": 137.9, "m": 17.0, "t": "Adaptation"}, {"s": 390.3, "m": 17.0, "t": "De-adaptation"}]},
 "mark": {"type": "text", "font": "DejaVu Sans", "fontSize": 20.2, "color": "#111111", "align": "center", "baseline": "alphabetic"},
 "encoding": {"x": {"field": "s", "type": "quantitative", "title": "Strides", "scale": {"domain": [-9.75, 510.8], "nice": false, "zero": false}}, "y": {"field": "m", "type": "quantitative", "title": "Step Asymmetry Index (%)", "scale": {"domain": [-30, 20], "nice": false, "zero": false}}, "text": {"field": "t"}}},
{"data": {"values": [{"s": 138.4, "m": 14.26, "t": "Belts Split"}]},
 "mark": {"type": "text", "font": "DejaVu Sans", "fontSize": 15, "color": "#111111", "align": "center", "baseline": "alphabetic"},
 "encoding": {"x": {"field": "s", "type": "quantitative", "title": "Strides", "scale": {"domain": [-9.75, 510.8], "nice": false, "zero": false}}, "y": {"field": "m", "type": "quantitative", "title": "Step Asymmetry Index (%)", "scale": {"domain": [-30, 20], "nice": false, "zero": false}}, "text": {"field": "t"}}},
{"data": {"values": [{"s": 225.4, "m": 9.0, "t": "Control"}]},
 "mark": {"type": "text", "font": "Open Sans", "fontSize": 21, "fontWeight": "bold", "color": "#77AC30", "align": "left", "baseline": "alphabetic"},
 "encoding": {"x": {"field": "s", "type": "quantitative", "title": "Strides", "scale": {"domain": [-9.75, 510.8], "nice": false, "zero": false}}, "y": {"field": "m", "type": "quantitative", "title": "Step Asymmetry Index (%)", "scale": {"domain": [-30, 20], "nice": false, "zero": false}}, "text": {"field": "t"}}},
{"data": {"values": [{"s": 225.4, "m": 6.07, "t": "Stroke"}]},
 "mark": {"type": "text", "font": "Open Sans", "fontSize": 21, "fontWeight": "bold", "color": "#4DBEEE", "align": "left", "baseline": "alphabetic"},
 "encoding": {"x": {"field": "s", "type": "quantitative", "title": "Strides", "scale": {"domain": [-9.75, 510.8], "nice": false, "zero": false}}, "y": {"field": "m", "type": "quantitative", "title": "Step Asymmetry Index (%)", "scale": {"domain": [-30, 20], "nice": false, "zero": false}}, "text": {"field": "t"}}}
]
}
